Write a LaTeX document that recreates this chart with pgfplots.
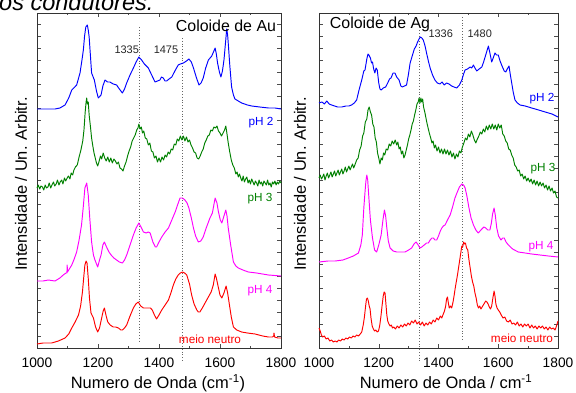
\documentclass[border=0pt]{standalone}
\usepackage{fontspec}
\setmainfont{Liberation Sans}
\usepackage{pgfplots}
\pgfplotsset{compat=1.18}
\definecolor{cblue}{RGB}{0,0,255}
\definecolor{cgreen}{RGB}{0,128,0}
\definecolor{cmag}{RGB}{255,0,255}
\definecolor{cred}{RGB}{255,0,0}
\pgfplotsset{
  spec/.style={
    scale only axis, height=335bp,
    xmin=1000, xmax=1800, ymin=0, ymax=335,
    xtick={1000,1200,...,1800}, minor x tick num=1,
    ytick={12,24,...,324}, yticklabels={},
    xtick pos=both, ytick pos=both, tick align=inside,
    major tick length=4bp, minor tick length=2.5bp,
    axis line style={line width=0.8bp, black!80},
    every tick/.style={black!70, line width=0.5bp},
    clip=false,
    /pgf/number format/assume math mode=true,
    /pgf/number format/1000 sep={},
    xticklabel style={font=\fontsize{13.8}{14}\selectfont, yshift=-6bp},
    every axis plot/.append style={line width=0.95bp, line join=round},
  },
  peak/.style={black!60, line width=0.7bp, dash pattern=on 0.8bp off 2bp},
}
\begin{document}
\begin{tikzpicture}[x=1bp,y=1bp]
% top text (cut off)
\node[anchor=base west, inner sep=0, font=\fontsize{23.6}{24}\selectfont\itshape] at (-1,382) {os condutores.};

%%%%%%%%%%%%%%% LEFT: Au
\begin{axis}[spec, width=244bp, at={(37bp,44bp)}, anchor=south west]
\addplot[peak] coordinates {(1335,321) (1335,5)};
\addplot[peak] coordinates {(1475,310) (1475,-14)};
% pH 2
\addplot[cblue] coordinates {(1000,239) (1030,239) (1059,239) (1075,240) (1092,243) (1104,250) (1114,258) (1130,263) (1141,275) (1147,287) (1152,298) (1156,312) (1160,321) (1165,323) (1168,318) (1171,311) (1175,293) (1179,275) (1188,268) (1195,257) (1201,250) (1210,253) (1216,262) (1223,268) (1231,266) (1239,266) (1250,264) (1261,263) (1270,259) (1280,255) (1287,259) (1294,265) (1305,273) (1316,280) (1325,286) (1334,291) (1343,288) (1352,284) (1365,280) (1376,273) (1387,266) (1395,267) (1403,268) (1408,271) (1414,270) (1420,267) (1425,267) (1433,269) (1442,271) (1452,277) (1463,283) (1470,284) (1480,285) (1490,287) (1498,289) (1506,286) (1513,280) (1522,271) (1531,263) (1538,265) (1545,270) (1553,280) (1562,288) (1573,292) (1580,297) (1584,300) (1588,294) (1592,285) (1598,276) (1603,271) (1608,277) (1613,288) (1618,305) (1622,319) (1625,313) (1627,305) (1632,283) (1638,261) (1644,253) (1649,249) (1660,247) (1671,245) (1690,243) (1704,242) (1730,241) (1759,240) (1780,240) (1800,239)};
% pH 3
\addplot[cgreen] coordinates {(1000,160) (1004,163) (1009,159) (1013,162) (1018,161) (1022,158) (1027,163) (1031,160) (1036,161) (1040,165) (1045,160) (1049,163) (1054,166) (1058,162) (1063,164) (1067,168) (1072,163) (1076,166) (1081,168) (1085,164) (1090,170) (1094,167) (1099,170) (1103,172) (1108,169) (1112,175) (1117,173) (1121,178) (1126,181) (1132,183) (1138,191) (1144,198) (1150,207) (1154,218) (1158,236) (1161,246) (1163,250) (1165,244) (1168,246) (1171,233) (1175,222) (1179,210) (1183,202) (1187,195) (1191,190) (1195,185) (1199,182) (1203,186) (1208,192) (1212,189) (1217,195) (1222,190) (1227,187) (1232,191) (1237,186) (1242,190) (1247,185) (1252,189) (1257,187) (1262,184) (1267,186) (1272,180) (1277,179) (1282,177) (1287,182) (1292,186) (1297,192) (1302,197) (1307,201) (1312,207) (1317,210) (1322,213) (1327,218) (1331,220) (1334,224) (1338,219) (1342,221) (1346,215) (1350,217) (1355,210) (1360,209) (1365,203) (1370,205) (1375,197) (1380,196) (1385,190) (1390,192) (1395,186) (1400,190) (1405,186) (1410,191) (1415,188) (1420,193) (1425,191) (1430,196) (1435,194) (1440,199) (1445,198) (1450,204) (1455,203) (1460,209) (1465,207) (1470,212) (1475,208) (1480,212) (1485,207) (1490,211) (1495,206) (1500,208) (1505,203) (1510,200) (1515,196) (1520,195) (1525,190) (1530,189) (1535,192) (1540,196) (1545,199) (1550,205) (1555,208) (1560,212) (1565,213) (1570,218) (1575,217) (1580,221) (1585,220) (1590,222) (1595,217) (1600,215) (1605,212) (1610,215) (1615,218) (1619,222) (1623,214) (1627,205) (1632,196) (1637,188) (1642,183) (1647,180) (1652,174) (1656,176) (1660,171) (1664,174) (1668,170) (1672,167) (1676,172) (1680,166) (1684,169) (1688,171) (1692,165) (1696,168) (1700,164) (1704,169) (1708,166) (1712,163) (1716,167) (1720,165) (1724,162) (1728,168) (1732,164) (1736,166) (1740,162) (1744,167) (1748,165) (1752,163) (1756,168) (1760,163) (1764,165) (1768,161) (1772,166) (1776,164) (1780,167) (1784,163) (1788,166) (1792,164) (1796,167) (1800,165)};
% pH 4
\addplot[cmag] coordinates {(1000,67) (1020,67) (1037,68) (1059,67) (1075,70) (1086,73) (1095,75) (1098,75) (1099,83) (1100,76) (1106,79) (1114,83) (1122,89) (1130,96) (1138,108) (1146,123) (1152,142) (1157,160) (1163,165) (1168,153) (1173,130) (1179,106) (1185,93) (1190,88) (1199,81) (1205,88) (1210,93) (1216,103) (1221,106) (1228,101) (1236,96) (1243,93) (1252,90) (1261,88) (1270,86) (1280,85) (1287,88) (1294,93) (1305,103) (1316,113) (1325,120) (1334,125) (1341,121) (1349,116) (1358,115) (1365,116) (1371,115) (1380,106) (1388,101) (1392,101) (1400,106) (1409,111) (1420,116) (1431,120) (1442,128) (1453,136) (1462,144) (1469,150) (1477,150) (1485,148) (1492,145) (1498,140) (1506,130) (1513,120) (1520,112) (1529,106) (1537,107) (1545,111) (1556,121) (1567,130) (1575,135) (1584,150) (1590,145) (1595,136) (1601,128) (1606,125) (1612,131) (1619,138) (1623,132) (1627,120) (1635,103) (1644,86) (1652,82) (1660,80) (1675,78) (1693,76) (1720,75) (1759,73) (1800,72)};
% meio neutro
\addplot[cred] coordinates {(1000,4) (1020,5) (1048,5) (1070,7) (1092,10) (1104,14) (1114,20) (1125,26) (1136,33) (1143,42) (1149,56) (1153,70) (1157,83) (1161,87) (1164,85) (1168,70) (1172,50) (1177,35) (1185,30) (1192,21) (1199,16) (1205,20) (1212,30) (1217,37) (1221,40) (1226,33) (1232,26) (1240,23) (1250,21) (1258,21) (1267,20) (1275,18) (1280,18) (1287,20) (1294,23) (1305,32) (1316,40) (1324,44) (1332,46) (1340,42) (1349,40) (1357,40) (1365,40) (1372,40) (1378,38) (1385,33) (1392,29) (1400,33) (1409,38) (1420,43) (1431,48) (1440,56) (1447,63) (1455,69) (1463,73) (1470,75) (1477,76) (1484,75) (1491,73) (1500,64) (1507,53) (1515,44) (1524,38) (1529,36) (1534,36) (1542,40) (1551,45) (1560,50) (1571,56) (1578,63) (1584,74) (1588,70) (1595,60) (1600,53) (1606,50) (1613,55) (1620,62) (1625,55) (1630,45) (1637,31) (1644,21) (1655,18) (1671,16) (1690,15) (1715,14) (1740,12) (1759,11) (1772,11) (1776,12) (1777,15) (1779,11) (1790,10) (1800,10)};
\end{axis}

%%%%%%%%%%%%%%% RIGHT: Ag
\begin{axis}[spec, width=239bp, at={(319bp,44bp)}, anchor=south west]
\addplot[peak] coordinates {(1336,318) (1336,-15)};
\addplot[peak] coordinates {(1480,331) (1480,8)};
% pH 2
\addplot[cblue] coordinates {(1000,245) (1010,246) (1018,244) (1026,247) (1034,244) (1042,243) (1052,242) (1062,241) (1076,241) (1090,242) (1100,242) (1109,243) (1118,245) (1126,248) (1134,258) (1143,268) (1150,277) (1154,278) (1160,289) (1164,294) (1167,293) (1172,290) (1176,285) (1179,286) (1183,279) (1187,275) (1191,280) (1195,278) (1200,265) (1204,259) (1208,258) (1215,260) (1223,261) (1230,265) (1236,269) (1241,270) (1248,275) (1254,275) (1260,271) (1268,268) (1274,262) (1279,261) (1286,262) (1293,263) (1299,273) (1305,285) (1312,292) (1319,299) (1325,302) (1330,306) (1335,309) (1339,311) (1344,310) (1349,308) (1355,302) (1360,295) (1366,287) (1372,280) (1380,273) (1388,268) (1396,265) (1405,264) (1412,266) (1419,263) (1427,265) (1435,264) (1444,262) (1452,261) (1461,260) (1470,263) (1478,268) (1484,274) (1489,278) (1497,279) (1506,281) (1511,280) (1517,283) (1522,280) (1528,277) (1536,279) (1545,281) (1551,286) (1556,291) (1562,297) (1567,302) (1572,295) (1578,286) (1583,290) (1589,295) (1594,293) (1600,293) (1606,287) (1614,281) (1620,277) (1625,276) (1630,279) (1636,282) (1640,274) (1645,265) (1650,256) (1656,248) (1664,245) (1673,243) (1690,242) (1712,240) (1735,238) (1757,236) (1780,234) (1800,231)};
% pH 3
\addplot[cgreen] coordinates {(1000,170) (1004,173) (1008,169) (1012,171) (1016,174) (1020,168) (1024,172) (1028,175) (1032,170) (1036,173) (1040,176) (1044,171) (1048,174) (1052,177) (1056,172) (1060,175) (1064,178) (1068,173) (1072,176) (1076,179) (1080,174) (1084,177) (1088,181) (1092,176) (1096,179) (1100,182) (1104,178) (1108,181) (1112,184) (1116,180) (1120,183) (1126,188) (1131,190) (1136,198) (1141,202) (1146,212) (1150,215) (1155,226) (1160,229) (1164,238) (1168,241) (1172,236) (1176,233) (1180,224) (1184,221) (1188,210) (1192,206) (1196,195) (1200,190) (1204,184) (1208,190) (1212,188) (1216,195) (1220,193) (1225,199) (1230,198) (1235,204) (1240,202) (1245,207) (1250,204) (1255,208) (1260,203) (1264,206) (1268,199) (1272,201) (1276,194) (1280,197) (1284,190) (1288,193) (1292,198) (1296,203) (1300,209) (1304,213) (1308,218) (1312,224) (1316,227) (1320,233) (1324,238) (1328,244) (1332,246) (1335,250) (1338,245) (1341,250) (1344,246) (1347,249) (1350,241) (1354,236) (1358,230) (1362,224) (1366,219) (1370,214) (1374,210) (1378,205) (1382,207) (1386,200) (1390,203) (1395,197) (1400,201) (1405,195) (1410,199) (1415,194) (1420,199) (1425,194) (1430,198) (1435,193) (1440,197) (1445,191) (1450,195) (1455,189) (1460,194) (1465,191) (1470,197) (1475,195) (1480,201) (1485,205) (1490,210) (1495,208) (1500,214) (1505,211) (1510,217) (1515,213) (1520,208) (1525,205) (1530,209) (1535,212) (1540,216) (1545,214) (1550,219) (1555,216) (1560,222) (1565,218) (1570,223) (1575,219) (1580,224) (1585,219) (1590,223) (1595,218) (1600,224) (1605,220) (1610,223) (1615,214) (1620,212) (1625,207) (1630,205) (1635,199) (1640,198) (1645,193) (1650,190) (1655,183) (1660,181) (1665,177) (1670,178) (1675,172) (1680,174) (1685,169) (1690,172) (1695,167) (1700,170) (1705,166) (1710,169) (1715,164) (1720,168) (1725,163) (1730,167) (1735,162) (1740,166) (1745,162) (1750,165) (1755,160) (1760,163) (1765,158) (1770,162) (1775,157) (1780,160) (1785,155) (1790,157) (1795,151) (1800,150)};
% pH 4
\addplot[cmag] coordinates {(1000,86) (1030,87) (1054,87) (1080,88) (1098,90) (1115,92) (1132,95) (1140,103) (1145,113) (1150,140) (1154,156) (1157,167) (1160,173) (1163,168) (1167,150) (1172,128) (1179,110) (1186,98) (1193,96) (1200,103) (1208,113) (1214,128) (1219,138) (1223,132) (1227,120) (1232,107) (1238,100) (1248,97) (1260,96) (1275,96) (1288,96) (1300,98) (1310,100) (1318,104) (1325,106) (1332,103) (1338,100) (1344,101) (1352,103) (1360,105) (1366,105) (1372,108) (1378,110) (1383,110) (1388,108) (1394,108) (1400,112) (1406,117) (1411,120) (1416,122) (1422,123) (1430,128) (1439,133) (1447,141) (1455,150) (1463,156) (1470,161) (1478,164) (1484,163) (1489,160) (1495,152) (1502,140) (1509,130) (1517,123) (1525,118) (1533,115) (1539,117) (1545,119) (1552,121) (1558,120) (1565,118) (1572,118) (1577,125) (1581,134) (1586,140) (1590,133) (1595,120) (1601,112) (1609,108) (1615,110) (1620,110) (1626,106) (1634,103) (1648,99) (1667,96) (1690,95) (1712,94) (1740,93) (1768,92) (1800,91)};
% meio neutro
\addplot[cred] coordinates {(1000,20) (1004,17) (1008,13) (1012,11) (1018,12) (1024,9) (1030,10) (1036,7) (1042,8) (1048,6) (1054,7) (1060,6) (1066,8) (1072,7) (1078,9) (1084,8) (1090,10) (1096,9) (1102,11) (1108,10) (1114,12) (1120,11) (1126,13) (1132,12) (1138,14) (1143,16) (1148,23) (1152,31) (1156,42) (1159,49) (1162,50) (1165,47) (1168,42) (1171,39) (1174,30) (1178,22) (1182,19) (1186,17) (1190,18) (1195,16) (1199,17) (1203,22) (1207,31) (1211,42) (1215,52) (1218,56) (1221,55) (1224,44) (1227,33) (1230,27) (1234,24) (1238,22) (1242,23) (1246,20) (1250,21) (1256,19) (1262,22) (1268,20) (1274,23) (1280,21) (1286,24) (1292,22) (1298,25) (1304,23) (1310,27) (1316,25) (1322,28) (1328,24) (1334,26) (1340,23) (1346,26) (1352,22) (1358,25) (1364,23) (1370,26) (1376,24) (1382,28) (1388,26) (1394,30) (1400,28) (1406,32) (1411,30) (1416,34) (1420,37) (1424,42) (1427,49) (1430,51) (1433,45) (1436,40) (1440,42) (1444,40) (1448,45) (1452,52) (1456,60) (1460,67) (1464,74) (1468,82) (1472,90) (1475,96) (1478,102) (1481,101) (1484,106) (1487,104) (1490,105) (1494,100) (1498,98) (1502,88) (1506,80) (1510,72) (1514,66) (1518,62) (1522,55) (1526,50) (1530,43) (1534,40) (1538,42) (1542,39) (1546,41) (1550,43) (1554,45) (1558,47) (1562,46) (1566,44) (1570,41) (1574,39) (1578,42) (1582,50) (1586,57) (1589,52) (1592,44) (1596,40) (1600,38) (1605,36) (1610,33) (1616,30) (1622,31) (1628,27) (1634,26) (1640,28) (1646,24) (1652,25) (1658,23) (1664,26) (1670,22) (1676,24) (1682,21) (1688,24) (1694,22) (1700,24) (1706,20) (1712,23) (1718,20) (1724,22) (1730,19) (1736,22) (1742,20) (1748,22) (1754,19) (1760,21) (1766,18) (1772,21) (1778,19) (1784,20) (1790,18) (1795,22) (1800,27)};
\end{axis}

% titles and annotations
\node[anchor=base, inner sep=0, font=\fontsize{16}{17}\selectfont] at (226,361) {Coloide de Au};
\node[anchor=base, inner sep=0, font=\fontsize{16}{17}\selectfont] at (380,363.7) {Coloide de Ag};
\node[anchor=base, inner sep=0, font=\fontsize{11}{12}\selectfont, black!85] at (126.7,338.7) {1335};
\node[anchor=base, inner sep=0, font=\fontsize{11}{12}\selectfont, black!85] at (166,338.7) {1475};
\node[anchor=base, inner sep=0, font=\fontsize{11}{12}\selectfont, black!85] at (440.7,354.7) {1336};
\node[anchor=base, inner sep=0, font=\fontsize{11}{12}\selectfont, black!85] at (479.7,354.7) {1480};
\begin{scope}[every node/.style={anchor=base, inner sep=0, font=\fontsize{11.8}{12}\selectfont}]
\node[cblue] at (261,267) {pH 2};
\node[cgreen] at (260,191) {pH 3};
\node[cmag] at (260,99) {pH 4};
\node[cred] at (210,49) {meio neutro};
\node[cblue] at (542,291) {pH 2};
\node[cgreen] at (543,221) {pH 3};
\node[cmag] at (541,143) {pH 4};
\node[cred] at (522,50) {meio neutro};
\end{scope}
% axis labels
\node[anchor=base, inner sep=0, font=\fontsize{16.5}{17}\selectfont] at (158,3.5) {Numero de Onda (cm\textsuperscript{-1})};
\node[anchor=base, inner sep=0, font=\fontsize{16.5}{17}\selectfont] at (446,3.5) {Numero de Onda / cm\textsuperscript{-1}};
\node[rotate=90, inner sep=0, font=\fontsize{16.5}{17}\selectfont] at (21,208) {Intensidade / Un. Arbitr.};
\node[rotate=90, inner sep=0, font=\fontsize{16.5}{17}\selectfont] at (300,208) {Intensidade / Un. Arbitr.};

\pgfresetboundingbox
\useasboundingbox (0,0) rectangle (576,392);
\end{tikzpicture}
\end{document}
